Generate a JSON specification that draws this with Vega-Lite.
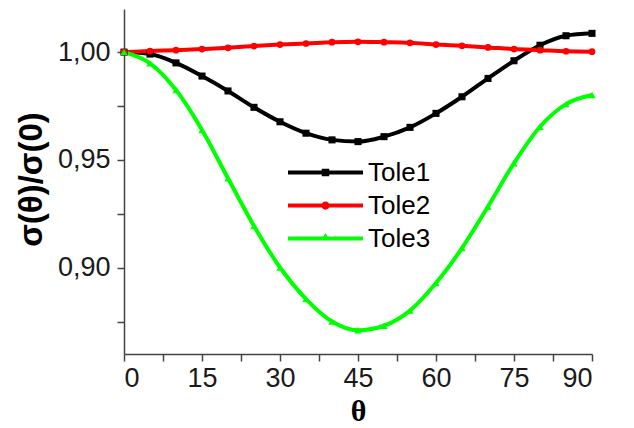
{
  "$schema": "https://vega.github.io/schema/vega-lite/v6.json",
  "width": 468,
  "height": 345,
  "autosize": {"type": "none"},
  "padding": {"left": 124, "top": 9, "right": 42, "bottom": 74},
  "background": "white",
  "config": {"view": {"stroke": null}},
  "data": {"values": [
    {"theta": 0, "ratio": 1.0, "series": "Tole1"},
    {"theta": 5, "ratio": 0.9991, "series": "Tole1"},
    {"theta": 10, "ratio": 0.995, "series": "Tole1"},
    {"theta": 15, "ratio": 0.9889, "series": "Tole1"},
    {"theta": 20, "ratio": 0.982, "series": "Tole1"},
    {"theta": 25, "ratio": 0.9744, "series": "Tole1"},
    {"theta": 30, "ratio": 0.9677, "series": "Tole1"},
    {"theta": 35, "ratio": 0.9624, "series": "Tole1"},
    {"theta": 40, "ratio": 0.9593, "series": "Tole1"},
    {"theta": 45, "ratio": 0.9585, "series": "Tole1"},
    {"theta": 50, "ratio": 0.9608, "series": "Tole1"},
    {"theta": 55, "ratio": 0.9651, "series": "Tole1"},
    {"theta": 60, "ratio": 0.9716, "series": "Tole1"},
    {"theta": 65, "ratio": 0.9793, "series": "Tole1"},
    {"theta": 70, "ratio": 0.9878, "series": "Tole1"},
    {"theta": 75, "ratio": 0.996, "series": "Tole1"},
    {"theta": 80, "ratio": 1.0032, "series": "Tole1"},
    {"theta": 85, "ratio": 1.0076, "series": "Tole1"},
    {"theta": 90, "ratio": 1.0087, "series": "Tole1"},
    {"theta": 0, "ratio": 1.0, "series": "Tole2"},
    {"theta": 5, "ratio": 1.0005, "series": "Tole2"},
    {"theta": 10, "ratio": 1.0009, "series": "Tole2"},
    {"theta": 15, "ratio": 1.0014, "series": "Tole2"},
    {"theta": 20, "ratio": 1.002, "series": "Tole2"},
    {"theta": 25, "ratio": 1.0028, "series": "Tole2"},
    {"theta": 30, "ratio": 1.0035, "series": "Tole2"},
    {"theta": 35, "ratio": 1.004, "series": "Tole2"},
    {"theta": 40, "ratio": 1.0046, "series": "Tole2"},
    {"theta": 45, "ratio": 1.0048, "series": "Tole2"},
    {"theta": 50, "ratio": 1.0046, "series": "Tole2"},
    {"theta": 55, "ratio": 1.0043, "series": "Tole2"},
    {"theta": 60, "ratio": 1.0035, "series": "Tole2"},
    {"theta": 65, "ratio": 1.0029, "series": "Tole2"},
    {"theta": 70, "ratio": 1.0022, "series": "Tole2"},
    {"theta": 75, "ratio": 1.0014, "series": "Tole2"},
    {"theta": 80, "ratio": 1.0009, "series": "Tole2"},
    {"theta": 85, "ratio": 1.0004, "series": "Tole2"},
    {"theta": 90, "ratio": 1.0002, "series": "Tole2"},
    {"theta": 0, "ratio": 1.0, "series": "Tole3"},
    {"theta": 5, "ratio": 0.9948, "series": "Tole3"},
    {"theta": 10, "ratio": 0.9824, "series": "Tole3"},
    {"theta": 15, "ratio": 0.9639, "series": "Tole3"},
    {"theta": 20, "ratio": 0.9415, "series": "Tole3"},
    {"theta": 25, "ratio": 0.9194, "series": "Tole3"},
    {"theta": 30, "ratio": 0.9001, "series": "Tole3"},
    {"theta": 35, "ratio": 0.8855, "series": "Tole3"},
    {"theta": 40, "ratio": 0.8751, "series": "Tole3"},
    {"theta": 45, "ratio": 0.871, "series": "Tole3"},
    {"theta": 50, "ratio": 0.8731, "series": "Tole3"},
    {"theta": 55, "ratio": 0.8801, "series": "Tole3"},
    {"theta": 60, "ratio": 0.8929, "series": "Tole3"},
    {"theta": 65, "ratio": 0.9091, "series": "Tole3"},
    {"theta": 70, "ratio": 0.9284, "series": "Tole3"},
    {"theta": 75, "ratio": 0.9485, "series": "Tole3"},
    {"theta": 80, "ratio": 0.9654, "series": "Tole3"},
    {"theta": 85, "ratio": 0.9759, "series": "Tole3"},
    {"theta": 90, "ratio": 0.9801, "series": "Tole3"}
  ]},
  "encoding": {
    "x": {
      "field": "theta", "type": "quantitative",
      "scale": {"domain": [0, 90], "nice": false, "zero": false},
      "axis": {
        "title": "θ",
        "values": [0, 7.5, 15, 22.5, 30, 37.5, 45, 52.5, 60, 67.5, 75, 82.5, 90],
        "labelExpr": "datum.value % 15 === 0 ? datum.label : ''",
        "labelOverlap": false,
        "grid": false,
        "domainColor": "#444444",
        "domainWidth": 1.5,
        "tickColor": "#444444",
        "tickWidth": 1.5,
        "tickSize": 7,
        "labelPadding": 4,
        "labelFont": "Liberation Sans",
        "labelFontSize": 27,
        "labelColor": "#1a1a1a",
        "titleFont": "Liberation Serif",
        "titleFontSize": 30,
        "titleFontWeight": "bold",
        "titleColor": "#000000",
        "titleBaseline": "alphabetic",
        "titleY": 66,
        "encode": {"ticks": {"update": {"y2": {"signal": "datum.value % 15 === 0 ? 7 : 4"}}}}
      }
    },
    "y": {
      "field": "ratio", "type": "quantitative",
      "scale": {"domain": [0.86, 1.02], "nice": false, "zero": false},
      "axis": {
        "title": "σ(θ)/σ(0)",
        "values": [0.875, 0.9, 0.925, 0.95, 0.975, 1.0],
        "labelExpr": "round(datum.value * 1000) % 50 === 0 ? replace(format(datum.value, '.2f'), '.', ',') : ''",
        "labelOverlap": false,
        "grid": false,
        "domainColor": "#444444",
        "domainWidth": 1.5,
        "tickColor": "#444444",
        "tickWidth": 1.5,
        "tickSize": 7,
        "labelPadding": 7,
        "labelFont": "Liberation Sans",
        "labelFontSize": 27,
        "labelColor": "#1a1a1a",
        "titleFont": "Liberation Sans",
        "titleFontSize": 33,
        "titleFontWeight": "bold",
        "titleColor": "#000000",
        "titleAngle": -90,
        "titleBaseline": "middle",
        "titleAlign": "center",
        "titleX": -93,
        "titleY": 170,
        "encode": {"ticks": {"update": {"x2": {"signal": "round(datum.value * 1000) % 50 === 0 ? -7 : -4"}}}}
      }
    },
    "color": {
      "field": "series", "type": "nominal",
      "scale": {"domain": ["Tole1", "Tole2", "Tole3"], "range": ["#000000", "#ff0000", "#00ff00"]},
      "legend": {
        "title": null,
        "orient": "none",
        "legendX": 164,
        "legendY": 147,
        "padding": 0,
        "symbolSize": 5625,
        "symbolStrokeWidth": 0,
        "clipHeight": 33,
        "rowPadding": 0,
        "labelOffset": 5,
        "labelFont": "Liberation Sans",
        "labelFontSize": 26,
        "labelColor": "#000000",
        "encode": {
          "symbols": {
            "update": {
              "shape": {"signal": "datum.value === 'Tole1' ? 'M -1 -0.055 L 1 -0.055 L 1 0.055 L -1 0.055 Z M -0.1 -0.1 L 0.1 -0.1 L 0.1 0.1 L -0.1 0.1 Z' : datum.value === 'Tole2' ? 'M -1 -0.055 L 1 -0.055 L 1 0.055 L -1 0.055 Z M -0.11 0 A 0.11 0.11 0 1 1 0.11 0 A 0.11 0.11 0 1 1 -0.11 0 Z' : 'M -1 -0.055 L 1 -0.055 L 1 0.055 L -1 0.055 Z M 0 -0.15 L 0.12 0.05 L -0.12 0.05 Z'"},
              "fill": {"signal": "datum.value === 'Tole1' ? '#000000' : datum.value === 'Tole2' ? '#ff0000' : '#00ff00'"},
              "stroke": {"value": "transparent"},
              "strokeWidth": {"value": 0},
              "opacity": {"value": 1}
            }
          }
        }
      }
    }
  },
  "layer": [
    {
      "mark": {"type": "line", "strokeWidth": 4, "interpolate": "monotone"}
    },
    {
      "transform": [{"filter": "datum.series === 'Tole1'"}],
      "mark": {"type": "point", "filled": true, "opacity": 1, "shape": "square", "size": 50}
    },
    {
      "transform": [{"filter": "datum.series === 'Tole2'"}],
      "mark": {"type": "point", "filled": true, "opacity": 1, "shape": "circle", "size": 45}
    },
    {
      "transform": [{"filter": "datum.series === 'Tole3'"}],
      "mark": {"type": "point", "filled": true, "opacity": 1, "shape": "triangle-up", "size": 55}
    }
  ]
}
